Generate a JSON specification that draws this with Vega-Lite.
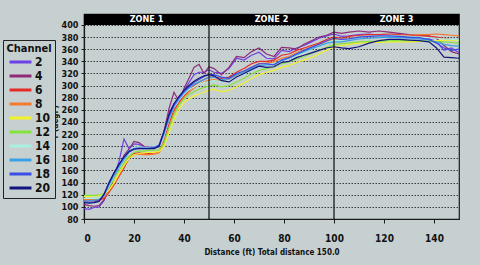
{
"$schema":"https://vega.github.io/schema/vega-lite/v6.json",
"width":375,"height":205,
"autosize":{"type":"none"},
"padding":{"left":84,"top":14,"right":21,"bottom":46},
"background":"#c6d0d0",
"config":{"view":{"stroke":"#1a1a1a","strokeWidth":1.2,"fill":"#c6d0d0"},"font":"Liberation Sans Narrow, DejaVu Sans Condensed, Arial Narrow, sans-serif",
"axisX":{"grid":false,"labelOverlap":false,"domainColor":"#1a1a1a","domainWidth":1.2,"tickColor":"#1a1a1a","tickSize":4,"labelPadding":10,"labelFontSize":10,"labelFontWeight":"bold","labelColor":"#111","titleFontSize":8,"titleFontWeight":"bold","titleColor":"#111","titlePadding":5},
"axisY":{"grid":true,"labelOverlap":false,"labelFlush":false,"gridColor":"#3a3a3a","gridDash":[1.5,1.5],"gridWidth":1,"domainColor":"#1a1a1a","domainWidth":1.2,"tickColor":"#1a1a1a","tickSize":3,"labelPadding":3,"labelFontSize":9,"labelFontWeight":"bold","labelColor":"#111","titleFontSize":8,"titleFontWeight":"bold","titleColor":"#111","titleX":-29,"titleY":108,"titleAngle":-90,"titleAlign":"center","titleBaseline":"middle"}},
"layer":[
{"data":{"values":[
{"ch":2,"d":0,"t":97},{"ch":2,"d":2,"t":96},{"ch":2,"d":4,"t":99},{"ch":2,"d":6,"t":100},{"ch":2,"d":8,"t":110},{"ch":2,"d":10,"t":130},{"ch":2,"d":12,"t":150},{"ch":2,"d":14,"t":175},{"ch":2,"d":16,"t":212},{"ch":2,"d":18,"t":196},{"ch":2,"d":20,"t":204},{"ch":2,"d":22,"t":203},{"ch":2,"d":24,"t":199},{"ch":2,"d":26,"t":198},{"ch":2,"d":28,"t":199},{"ch":2,"d":30,"t":199},{"ch":2,"d":32,"t":222},{"ch":2,"d":34,"t":255},{"ch":2,"d":36,"t":270},{"ch":2,"d":38,"t":276},{"ch":2,"d":40,"t":292},{"ch":2,"d":42,"t":305},{"ch":2,"d":44,"t":318},{"ch":2,"d":46,"t":322},{"ch":2,"d":48,"t":322},{"ch":2,"d":50,"t":326},{"ch":2,"d":52,"t":322},{"ch":2,"d":55,"t":320},{"ch":2,"d":58,"t":328},{"ch":2,"d":61,"t":345},{"ch":2,"d":64,"t":342},{"ch":2,"d":67,"t":350},{"ch":2,"d":70,"t":355},{"ch":2,"d":73,"t":345},{"ch":2,"d":76,"t":344},{"ch":2,"d":79,"t":358},{"ch":2,"d":82,"t":356},{"ch":2,"d":85,"t":362},{"ch":2,"d":88,"t":366},{"ch":2,"d":91,"t":372},{"ch":2,"d":94,"t":378},{"ch":2,"d":97,"t":382},{"ch":2,"d":100,"t":385},{"ch":2,"d":103,"t":381},{"ch":2,"d":106,"t":382},{"ch":2,"d":110,"t":384},{"ch":2,"d":114,"t":385},{"ch":2,"d":118,"t":383},{"ch":2,"d":122,"t":384},{"ch":2,"d":126,"t":382},{"ch":2,"d":130,"t":380},{"ch":2,"d":134,"t":379},{"ch":2,"d":138,"t":378},{"ch":2,"d":141,"t":372},{"ch":2,"d":144,"t":358},{"ch":2,"d":147,"t":362},{"ch":2,"d":150,"t":354},
{"ch":4,"d":0,"t":104},{"ch":4,"d":2,"t":102},{"ch":4,"d":4,"t":101},{"ch":4,"d":6,"t":102},{"ch":4,"d":8,"t":112},{"ch":4,"d":10,"t":128},{"ch":4,"d":12,"t":148},{"ch":4,"d":14,"t":166},{"ch":4,"d":16,"t":185},{"ch":4,"d":18,"t":195},{"ch":4,"d":20,"t":208},{"ch":4,"d":22,"t":206},{"ch":4,"d":24,"t":200},{"ch":4,"d":26,"t":197},{"ch":4,"d":28,"t":197},{"ch":4,"d":30,"t":200},{"ch":4,"d":32,"t":225},{"ch":4,"d":34,"t":262},{"ch":4,"d":36,"t":289},{"ch":4,"d":38,"t":274},{"ch":4,"d":40,"t":295},{"ch":4,"d":42,"t":312},{"ch":4,"d":44,"t":330},{"ch":4,"d":46,"t":335},{"ch":4,"d":48,"t":320},{"ch":4,"d":50,"t":331},{"ch":4,"d":52,"t":328},{"ch":4,"d":55,"t":318},{"ch":4,"d":58,"t":330},{"ch":4,"d":61,"t":348},{"ch":4,"d":64,"t":346},{"ch":4,"d":67,"t":356},{"ch":4,"d":70,"t":362},{"ch":4,"d":73,"t":352},{"ch":4,"d":76,"t":348},{"ch":4,"d":79,"t":363},{"ch":4,"d":82,"t":362},{"ch":4,"d":85,"t":360},{"ch":4,"d":88,"t":368},{"ch":4,"d":91,"t":374},{"ch":4,"d":94,"t":380},{"ch":4,"d":97,"t":383},{"ch":4,"d":100,"t":388},{"ch":4,"d":103,"t":386},{"ch":4,"d":106,"t":388},{"ch":4,"d":110,"t":390},{"ch":4,"d":114,"t":388},{"ch":4,"d":118,"t":390},{"ch":4,"d":122,"t":388},{"ch":4,"d":126,"t":386},{"ch":4,"d":130,"t":384},{"ch":4,"d":134,"t":383},{"ch":4,"d":138,"t":382},{"ch":4,"d":141,"t":378},{"ch":4,"d":144,"t":366},{"ch":4,"d":147,"t":356},{"ch":4,"d":150,"t":352},
{"ch":6,"d":0,"t":110},{"ch":6,"d":2,"t":110},{"ch":6,"d":4,"t":110},{"ch":6,"d":6,"t":111},{"ch":6,"d":8,"t":114},{"ch":6,"d":10,"t":124},{"ch":6,"d":12,"t":136},{"ch":6,"d":14,"t":150},{"ch":6,"d":16,"t":164},{"ch":6,"d":18,"t":180},{"ch":6,"d":20,"t":188},{"ch":6,"d":22,"t":189},{"ch":6,"d":24,"t":188},{"ch":6,"d":26,"t":188},{"ch":6,"d":28,"t":189},{"ch":6,"d":30,"t":190},{"ch":6,"d":32,"t":208},{"ch":6,"d":34,"t":236},{"ch":6,"d":36,"t":260},{"ch":6,"d":38,"t":272},{"ch":6,"d":40,"t":283},{"ch":6,"d":42,"t":292},{"ch":6,"d":44,"t":300},{"ch":6,"d":46,"t":306},{"ch":6,"d":48,"t":310},{"ch":6,"d":50,"t":314},{"ch":6,"d":52,"t":314},{"ch":6,"d":55,"t":312},{"ch":6,"d":58,"t":314},{"ch":6,"d":61,"t":322},{"ch":6,"d":64,"t":328},{"ch":6,"d":67,"t":336},{"ch":6,"d":70,"t":340},{"ch":6,"d":73,"t":340},{"ch":6,"d":76,"t":342},{"ch":6,"d":79,"t":350},{"ch":6,"d":82,"t":352},{"ch":6,"d":85,"t":358},{"ch":6,"d":88,"t":362},{"ch":6,"d":91,"t":366},{"ch":6,"d":94,"t":370},{"ch":6,"d":97,"t":376},{"ch":6,"d":100,"t":380},{"ch":6,"d":103,"t":378},{"ch":6,"d":106,"t":381},{"ch":6,"d":110,"t":383},{"ch":6,"d":114,"t":384},{"ch":6,"d":118,"t":384},{"ch":6,"d":122,"t":385},{"ch":6,"d":126,"t":384},{"ch":6,"d":130,"t":383},{"ch":6,"d":134,"t":382},{"ch":6,"d":138,"t":381},{"ch":6,"d":141,"t":380},{"ch":6,"d":144,"t":378},{"ch":6,"d":147,"t":376},{"ch":6,"d":150,"t":374},
{"ch":8,"d":0,"t":112},{"ch":8,"d":2,"t":112},{"ch":8,"d":4,"t":112},{"ch":8,"d":6,"t":113},{"ch":8,"d":8,"t":116},{"ch":8,"d":10,"t":126},{"ch":8,"d":12,"t":138},{"ch":8,"d":14,"t":152},{"ch":8,"d":16,"t":168},{"ch":8,"d":18,"t":182},{"ch":8,"d":20,"t":186},{"ch":8,"d":22,"t":187},{"ch":8,"d":24,"t":186},{"ch":8,"d":26,"t":186},{"ch":8,"d":28,"t":187},{"ch":8,"d":30,"t":189},{"ch":8,"d":32,"t":205},{"ch":8,"d":34,"t":232},{"ch":8,"d":36,"t":256},{"ch":8,"d":38,"t":270},{"ch":8,"d":40,"t":281},{"ch":8,"d":42,"t":289},{"ch":8,"d":44,"t":296},{"ch":8,"d":46,"t":302},{"ch":8,"d":48,"t":306},{"ch":8,"d":50,"t":309},{"ch":8,"d":52,"t":310},{"ch":8,"d":55,"t":308},{"ch":8,"d":58,"t":310},{"ch":8,"d":61,"t":317},{"ch":8,"d":64,"t":323},{"ch":8,"d":67,"t":330},{"ch":8,"d":70,"t":336},{"ch":8,"d":73,"t":337},{"ch":8,"d":76,"t":339},{"ch":8,"d":79,"t":345},{"ch":8,"d":82,"t":348},{"ch":8,"d":85,"t":354},{"ch":8,"d":88,"t":359},{"ch":8,"d":91,"t":364},{"ch":8,"d":94,"t":368},{"ch":8,"d":97,"t":373},{"ch":8,"d":100,"t":377},{"ch":8,"d":103,"t":376},{"ch":8,"d":106,"t":378},{"ch":8,"d":110,"t":380},{"ch":8,"d":114,"t":381},{"ch":8,"d":118,"t":382},{"ch":8,"d":122,"t":383},{"ch":8,"d":126,"t":383},{"ch":8,"d":130,"t":383},{"ch":8,"d":134,"t":384},{"ch":8,"d":138,"t":384},{"ch":8,"d":141,"t":385},{"ch":8,"d":144,"t":384},{"ch":8,"d":147,"t":383},{"ch":8,"d":150,"t":382},
{"ch":10,"d":0,"t":117},{"ch":10,"d":2,"t":117},{"ch":10,"d":4,"t":118},{"ch":10,"d":6,"t":118},{"ch":10,"d":8,"t":120},{"ch":10,"d":10,"t":128},{"ch":10,"d":12,"t":140},{"ch":10,"d":14,"t":155},{"ch":10,"d":16,"t":168},{"ch":10,"d":18,"t":180},{"ch":10,"d":20,"t":186},{"ch":10,"d":22,"t":188},{"ch":10,"d":24,"t":189},{"ch":10,"d":26,"t":190},{"ch":10,"d":28,"t":190},{"ch":10,"d":30,"t":191},{"ch":10,"d":32,"t":200},{"ch":10,"d":34,"t":222},{"ch":10,"d":36,"t":244},{"ch":10,"d":38,"t":262},{"ch":10,"d":40,"t":272},{"ch":10,"d":42,"t":278},{"ch":10,"d":44,"t":283},{"ch":10,"d":46,"t":286},{"ch":10,"d":48,"t":289},{"ch":10,"d":50,"t":292},{"ch":10,"d":52,"t":294},{"ch":10,"d":55,"t":290},{"ch":10,"d":58,"t":292},{"ch":10,"d":61,"t":298},{"ch":10,"d":64,"t":304},{"ch":10,"d":67,"t":312},{"ch":10,"d":70,"t":318},{"ch":10,"d":73,"t":322},{"ch":10,"d":76,"t":325},{"ch":10,"d":79,"t":330},{"ch":10,"d":82,"t":333},{"ch":10,"d":85,"t":338},{"ch":10,"d":88,"t":342},{"ch":10,"d":91,"t":346},{"ch":10,"d":94,"t":352},{"ch":10,"d":97,"t":358},{"ch":10,"d":100,"t":364},{"ch":10,"d":103,"t":366},{"ch":10,"d":106,"t":368},{"ch":10,"d":110,"t":370},{"ch":10,"d":114,"t":371},{"ch":10,"d":118,"t":371},{"ch":10,"d":122,"t":372},{"ch":10,"d":126,"t":372},{"ch":10,"d":130,"t":372},{"ch":10,"d":134,"t":373},{"ch":10,"d":138,"t":374},{"ch":10,"d":141,"t":374},{"ch":10,"d":144,"t":375},{"ch":10,"d":147,"t":375},{"ch":10,"d":150,"t":374},
{"ch":12,"d":0,"t":119},{"ch":12,"d":2,"t":119},{"ch":12,"d":4,"t":119},{"ch":12,"d":6,"t":120},{"ch":12,"d":8,"t":122},{"ch":12,"d":10,"t":132},{"ch":12,"d":12,"t":146},{"ch":12,"d":14,"t":160},{"ch":12,"d":16,"t":172},{"ch":12,"d":18,"t":184},{"ch":12,"d":20,"t":190},{"ch":12,"d":22,"t":192},{"ch":12,"d":24,"t":192},{"ch":12,"d":26,"t":193},{"ch":12,"d":28,"t":193},{"ch":12,"d":30,"t":194},{"ch":12,"d":32,"t":206},{"ch":12,"d":34,"t":230},{"ch":12,"d":36,"t":252},{"ch":12,"d":38,"t":268},{"ch":12,"d":40,"t":278},{"ch":12,"d":42,"t":285},{"ch":12,"d":44,"t":290},{"ch":12,"d":46,"t":294},{"ch":12,"d":48,"t":297},{"ch":12,"d":50,"t":299},{"ch":12,"d":52,"t":301},{"ch":12,"d":55,"t":298},{"ch":12,"d":58,"t":300},{"ch":12,"d":61,"t":306},{"ch":12,"d":64,"t":312},{"ch":12,"d":67,"t":319},{"ch":12,"d":70,"t":325},{"ch":12,"d":73,"t":328},{"ch":12,"d":76,"t":331},{"ch":12,"d":79,"t":336},{"ch":12,"d":82,"t":339},{"ch":12,"d":85,"t":344},{"ch":12,"d":88,"t":348},{"ch":12,"d":91,"t":353},{"ch":12,"d":94,"t":358},{"ch":12,"d":97,"t":363},{"ch":12,"d":100,"t":368},{"ch":12,"d":103,"t":369},{"ch":12,"d":106,"t":370},{"ch":12,"d":110,"t":372},{"ch":12,"d":114,"t":373},{"ch":12,"d":118,"t":373},{"ch":12,"d":122,"t":374},{"ch":12,"d":126,"t":374},{"ch":12,"d":130,"t":374},{"ch":12,"d":134,"t":374},{"ch":12,"d":138,"t":373},{"ch":12,"d":141,"t":372},{"ch":12,"d":144,"t":372},{"ch":12,"d":147,"t":371},{"ch":12,"d":150,"t":370},
{"ch":14,"d":0,"t":114},{"ch":14,"d":2,"t":114},{"ch":14,"d":4,"t":114},{"ch":14,"d":6,"t":115},{"ch":14,"d":8,"t":118},{"ch":14,"d":10,"t":134},{"ch":14,"d":12,"t":150},{"ch":14,"d":14,"t":166},{"ch":14,"d":16,"t":180},{"ch":14,"d":18,"t":192},{"ch":14,"d":20,"t":198},{"ch":14,"d":22,"t":199},{"ch":14,"d":24,"t":198},{"ch":14,"d":26,"t":198},{"ch":14,"d":28,"t":199},{"ch":14,"d":30,"t":202},{"ch":14,"d":32,"t":222},{"ch":14,"d":34,"t":246},{"ch":14,"d":36,"t":264},{"ch":14,"d":38,"t":276},{"ch":14,"d":40,"t":286},{"ch":14,"d":42,"t":293},{"ch":14,"d":44,"t":298},{"ch":14,"d":46,"t":302},{"ch":14,"d":48,"t":305},{"ch":14,"d":50,"t":306},{"ch":14,"d":52,"t":308},{"ch":14,"d":55,"t":306},{"ch":14,"d":58,"t":308},{"ch":14,"d":61,"t":314},{"ch":14,"d":64,"t":319},{"ch":14,"d":67,"t":325},{"ch":14,"d":70,"t":331},{"ch":14,"d":73,"t":333},{"ch":14,"d":76,"t":336},{"ch":14,"d":79,"t":341},{"ch":14,"d":82,"t":345},{"ch":14,"d":85,"t":350},{"ch":14,"d":88,"t":355},{"ch":14,"d":91,"t":360},{"ch":14,"d":94,"t":364},{"ch":14,"d":97,"t":370},{"ch":14,"d":100,"t":374},{"ch":14,"d":103,"t":375},{"ch":14,"d":106,"t":377},{"ch":14,"d":110,"t":380},{"ch":14,"d":114,"t":381},{"ch":14,"d":118,"t":382},{"ch":14,"d":122,"t":383},{"ch":14,"d":126,"t":382},{"ch":14,"d":130,"t":381},{"ch":14,"d":134,"t":380},{"ch":14,"d":138,"t":379},{"ch":14,"d":141,"t":378},{"ch":14,"d":144,"t":377},{"ch":14,"d":147,"t":376},{"ch":14,"d":150,"t":375},
{"ch":16,"d":0,"t":110},{"ch":16,"d":2,"t":110},{"ch":16,"d":4,"t":111},{"ch":16,"d":6,"t":112},{"ch":16,"d":8,"t":118},{"ch":16,"d":10,"t":136},{"ch":16,"d":12,"t":152},{"ch":16,"d":14,"t":166},{"ch":16,"d":16,"t":178},{"ch":16,"d":18,"t":190},{"ch":16,"d":20,"t":196},{"ch":16,"d":22,"t":197},{"ch":16,"d":24,"t":196},{"ch":16,"d":26,"t":196},{"ch":16,"d":28,"t":197},{"ch":16,"d":30,"t":200},{"ch":16,"d":32,"t":220},{"ch":16,"d":34,"t":245},{"ch":16,"d":36,"t":265},{"ch":16,"d":38,"t":278},{"ch":16,"d":40,"t":288},{"ch":16,"d":42,"t":296},{"ch":16,"d":44,"t":302},{"ch":16,"d":46,"t":306},{"ch":16,"d":48,"t":310},{"ch":16,"d":50,"t":313},{"ch":16,"d":52,"t":314},{"ch":16,"d":55,"t":310},{"ch":16,"d":58,"t":311},{"ch":16,"d":61,"t":318},{"ch":16,"d":64,"t":322},{"ch":16,"d":67,"t":328},{"ch":16,"d":70,"t":333},{"ch":16,"d":73,"t":334},{"ch":16,"d":76,"t":335},{"ch":16,"d":79,"t":341},{"ch":16,"d":82,"t":345},{"ch":16,"d":85,"t":351},{"ch":16,"d":88,"t":356},{"ch":16,"d":91,"t":361},{"ch":16,"d":94,"t":365},{"ch":16,"d":97,"t":370},{"ch":16,"d":100,"t":372},{"ch":16,"d":103,"t":372},{"ch":16,"d":106,"t":374},{"ch":16,"d":110,"t":377},{"ch":16,"d":114,"t":378},{"ch":16,"d":118,"t":379},{"ch":16,"d":122,"t":380},{"ch":16,"d":126,"t":379},{"ch":16,"d":130,"t":378},{"ch":16,"d":134,"t":377},{"ch":16,"d":138,"t":375},{"ch":16,"d":141,"t":372},{"ch":16,"d":144,"t":368},{"ch":16,"d":147,"t":366},{"ch":16,"d":150,"t":365},
{"ch":18,"d":0,"t":108},{"ch":18,"d":2,"t":107},{"ch":18,"d":4,"t":108},{"ch":18,"d":6,"t":110},{"ch":18,"d":8,"t":120},{"ch":18,"d":10,"t":138},{"ch":18,"d":12,"t":155},{"ch":18,"d":14,"t":170},{"ch":18,"d":16,"t":182},{"ch":18,"d":18,"t":192},{"ch":18,"d":20,"t":196},{"ch":18,"d":22,"t":197},{"ch":18,"d":24,"t":197},{"ch":18,"d":26,"t":197},{"ch":18,"d":28,"t":198},{"ch":18,"d":30,"t":202},{"ch":18,"d":32,"t":224},{"ch":18,"d":34,"t":250},{"ch":18,"d":36,"t":268},{"ch":18,"d":38,"t":280},{"ch":18,"d":40,"t":290},{"ch":18,"d":42,"t":298},{"ch":18,"d":44,"t":305},{"ch":18,"d":46,"t":310},{"ch":18,"d":48,"t":315},{"ch":18,"d":50,"t":318},{"ch":18,"d":52,"t":318},{"ch":18,"d":55,"t":314},{"ch":18,"d":58,"t":312},{"ch":18,"d":61,"t":320},{"ch":18,"d":64,"t":324},{"ch":18,"d":67,"t":330},{"ch":18,"d":70,"t":336},{"ch":18,"d":73,"t":336},{"ch":18,"d":76,"t":334},{"ch":18,"d":79,"t":342},{"ch":18,"d":82,"t":346},{"ch":18,"d":85,"t":352},{"ch":18,"d":88,"t":358},{"ch":18,"d":91,"t":363},{"ch":18,"d":94,"t":368},{"ch":18,"d":97,"t":374},{"ch":18,"d":100,"t":378},{"ch":18,"d":103,"t":376},{"ch":18,"d":106,"t":377},{"ch":18,"d":110,"t":380},{"ch":18,"d":114,"t":381},{"ch":18,"d":118,"t":382},{"ch":18,"d":122,"t":382},{"ch":18,"d":126,"t":381},{"ch":18,"d":130,"t":380},{"ch":18,"d":134,"t":379},{"ch":18,"d":138,"t":376},{"ch":18,"d":141,"t":370},{"ch":18,"d":144,"t":362},{"ch":18,"d":147,"t":358},{"ch":18,"d":150,"t":360},
{"ch":20,"d":0,"t":107},{"ch":20,"d":2,"t":106},{"ch":20,"d":4,"t":107},{"ch":20,"d":6,"t":109},{"ch":20,"d":8,"t":121},{"ch":20,"d":10,"t":140},{"ch":20,"d":12,"t":156},{"ch":20,"d":14,"t":170},{"ch":20,"d":16,"t":182},{"ch":20,"d":18,"t":191},{"ch":20,"d":20,"t":195},{"ch":20,"d":22,"t":196},{"ch":20,"d":24,"t":196},{"ch":20,"d":26,"t":196},{"ch":20,"d":28,"t":196},{"ch":20,"d":30,"t":200},{"ch":20,"d":32,"t":224},{"ch":20,"d":34,"t":252},{"ch":20,"d":36,"t":270},{"ch":20,"d":38,"t":282},{"ch":20,"d":40,"t":292},{"ch":20,"d":42,"t":300},{"ch":20,"d":44,"t":307},{"ch":20,"d":46,"t":312},{"ch":20,"d":48,"t":316},{"ch":20,"d":50,"t":318},{"ch":20,"d":52,"t":316},{"ch":20,"d":55,"t":308},{"ch":20,"d":58,"t":306},{"ch":20,"d":61,"t":314},{"ch":20,"d":64,"t":320},{"ch":20,"d":67,"t":326},{"ch":20,"d":70,"t":332},{"ch":20,"d":73,"t":330},{"ch":20,"d":76,"t":331},{"ch":20,"d":79,"t":338},{"ch":20,"d":82,"t":340},{"ch":20,"d":85,"t":346},{"ch":20,"d":88,"t":350},{"ch":20,"d":91,"t":354},{"ch":20,"d":94,"t":358},{"ch":20,"d":97,"t":362},{"ch":20,"d":100,"t":364},{"ch":20,"d":103,"t":362},{"ch":20,"d":106,"t":361},{"ch":20,"d":110,"t":364},{"ch":20,"d":114,"t":370},{"ch":20,"d":118,"t":374},{"ch":20,"d":122,"t":376},{"ch":20,"d":126,"t":376},{"ch":20,"d":130,"t":375},{"ch":20,"d":134,"t":374},{"ch":20,"d":138,"t":372},{"ch":20,"d":141,"t":362},{"ch":20,"d":144,"t":347},{"ch":20,"d":147,"t":346},{"ch":20,"d":150,"t":345}
]},
"mark":{"type":"line","strokeWidth":1.2},
"encoding":{
"x":{"field":"d","type":"quantitative","title":"Distance (ft) Total distance 150.0","scale":{"domain":[0,150],"nice":false,"zero":false},"axis":{"values":[0,20,40,60,80,100,120,140]}},
"y":{"field":"t","type":"quantitative","title":"Y (degF)","scale":{"domain":[80,418],"nice":false,"zero":false},"axis":{"values":[80,100,120,140,160,180,200,220,240,260,280,300,320,340,360,380,400],"tickCount":17}},
"color":{"field":"ch","type":"nominal","scale":{"domain":[2,4,6,8,10,12,14,16,18,20],"range":["#6d3fe6","#8e2a78","#e62a2a","#f47a30","#f2f22a","#86e23c","#a8f0e0","#3ca0e6","#3a4ee6","#141480"]},
"legend":{"orient":"none","legendX":-81,"legendY":26,"title":"Channel","titleFontSize":11,"titleFontWeight":"bold","titleColor":"#111","titleAnchor":"middle","titlePadding":1,"labelFontSize":12,"labelFontWeight":"bold","labelColor":"#111","symbolType":"stroke","symbolStrokeWidth":3,"symbolSize":480,"clipHeight":14,"rowPadding":0,"labelOffset":2,"strokeColor":"#222","fillColor":"#c6d0d0","padding":3}}
}},
{"data":{"values":[{"b":50},{"b":100}]},
"mark":{"type":"rule","color":"#1a1a1a","strokeWidth":1.3},
"encoding":{"x":{"field":"b","type":"quantitative","title":"Distance (ft) Total distance 150.0","axis":{"values":[0,20,40,60,80,100,120,140]}},"y":{"datum":80,"type":"quantitative","title":"Y (degF)","axis":{"values":[80,100,120,140,160,180,200,220,240,260,280,300,320,340,360,380,400],"tickCount":17}},"y2":{"datum":400}}},
{"data":{"values":[{"x0":0,"x1":150}]},
"mark":{"type":"rect","color":"#000000"},
"encoding":{"x":{"field":"x0","type":"quantitative","title":"Distance (ft) Total distance 150.0","axis":{"values":[0,20,40,60,80,100,120,140]}},"x2":{"field":"x1"},"y":{"datum":400,"type":"quantitative","title":"Y (degF)","axis":{"values":[80,100,120,140,160,180,200,220,240,260,280,300,320,340,360,380,400],"tickCount":17}},"y2":{"datum":418}}},
{"data":{"values":[{"zone":"ZONE 1","mid":25},{"zone":"ZONE 2","mid":75},{"zone":"ZONE 3","mid":125}]},
"mark":{"type":"text","color":"#ffffff","fontSize":9,"fontWeight":"bold","baseline":"middle"},
"encoding":{"x":{"field":"mid","type":"quantitative","title":"Distance (ft) Total distance 150.0","axis":{"values":[0,20,40,60,80,100,120,140]}},"y":{"datum":409,"type":"quantitative","title":"Y (degF)","axis":{"values":[80,100,120,140,160,180,200,220,240,260,280,300,320,340,360,380,400],"tickCount":17}},"text":{"field":"zone"}}}
]
}
